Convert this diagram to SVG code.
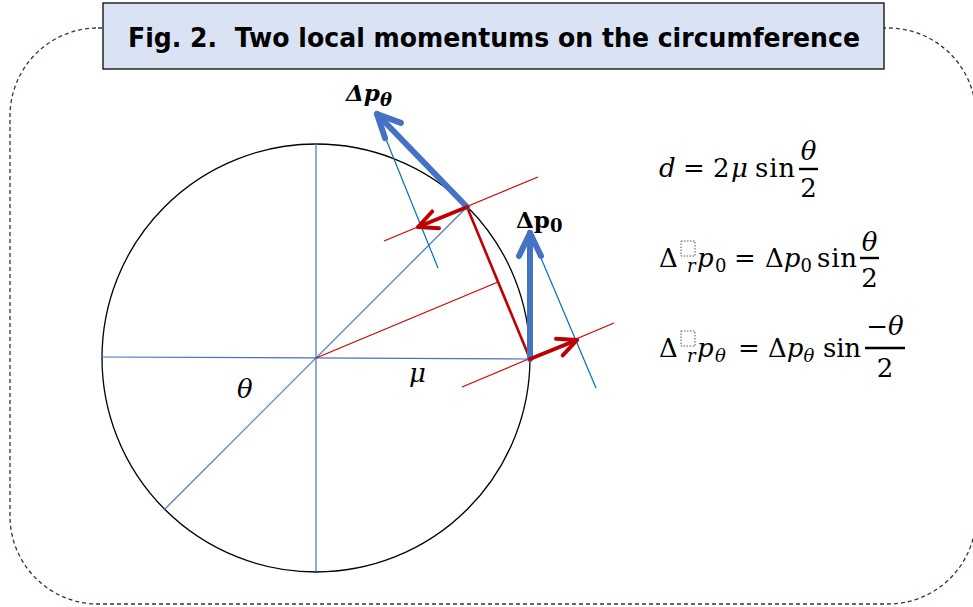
<svg xmlns="http://www.w3.org/2000/svg" width="973" height="607" viewBox="0 0 973 607">
<defs>
<style>
.frame{fill:none;stroke:#203864;stroke-width:1.3;stroke-dasharray:4 3}
.titlebox{fill:#DAE3F3;stroke:#262626;stroke-width:1.5}
.title{font-family:"DejaVu Sans",Verdana,sans-serif;font-weight:bold;font-size:27px;fill:#000;white-space:pre}
.circ{fill:none;stroke:#000;stroke-width:1.3}
.radius{stroke:#4472C4;stroke-width:1.2;fill:none}
.tline{stroke:#0070C0;stroke-width:1.2;fill:none}
.rline{stroke:#D00000;stroke-width:1.2;fill:none}
.chord{stroke:#C00000;stroke-width:2.6;fill:none}
.barrow{stroke:#4472C4;stroke-width:6;fill:none;stroke-linecap:round;marker-end:url(#bhead)}
.rarrow{stroke:#C00000;stroke-width:4;fill:none;stroke-linecap:round;marker-end:url(#rhead)}
.math{font-family:"DejaVu Serif","Liberation Serif",serif;font-size:26px;fill:#000}
.it{font-style:italic}
.sub{font-size:18px}
.lbl{font-family:"DejaVu Serif","Liberation Serif",serif;font-weight:bold;font-size:23px;fill:#000}
.bar{stroke:#000;stroke-width:2.4}
.box{fill:none;stroke:#555;stroke-width:1;stroke-dasharray:1.5 1.5}
</style>
<marker id="bhead" markerUnits="userSpaceOnUse" orient="auto" refX="0" refY="0" markerWidth="40" markerHeight="40" viewBox="-30 -20 40 40" overflow="visible">
<path d="M-23,-11 L0,0 L-23,11" fill="none" stroke="#4472C4" stroke-width="6" stroke-linecap="round" stroke-linejoin="round"/>
</marker>
<marker id="rhead" markerUnits="userSpaceOnUse" orient="auto" refX="0" refY="0" markerWidth="40" markerHeight="40" viewBox="-30 -20 40 40" overflow="visible">
<path d="M-19,-9 L0,0 L-19,9" fill="none" stroke="#C00000" stroke-width="4" stroke-linecap="round" stroke-linejoin="round"/>
</marker>
</defs>
<rect width="973" height="607" fill="#fff"/>

<g id="frame">
<rect class="frame" x="10" y="28" width="966" height="576" rx="88" ry="88"/>
</g>

<g id="title">
<rect class="titlebox" x="103" y="3" width="781" height="66"/>
<text class="title" xml:space="preserve" x="494" y="47" text-anchor="middle" textLength="732" lengthAdjust="spacingAndGlyphs">Fig. 2.  Two local momentums on the circumference</text>
</g>

<g id="circle">
<circle class="circ" cx="316" cy="358" r="214"/>
</g>

<g id="radii">
<line class="radius" x1="101" y1="357" x2="530" y2="359"/>
<line class="radius" x1="316" y1="143" x2="316" y2="571"/>
<line class="radius" x1="164" y1="510" x2="467" y2="207"/>
</g>

<g id="connectors">
<line class="chord" x1="467" y1="207" x2="530" y2="359"/>
<line class="rline" x1="316" y1="358" x2="498" y2="282"/>
<line class="rline" x1="384" y1="241" x2="538" y2="177"/>
<line class="rline" x1="462" y1="387" x2="614" y2="323"/>
<line class="tline" x1="375" y1="112" x2="438" y2="268"/>
<line class="tline" x1="530" y1="232" x2="596" y2="388"/>
<line class="barrow" x1="467" y1="207" x2="377" y2="114"/>
<line class="barrow" x1="530" y1="359" x2="530" y2="233"/>
<line class="rarrow" x1="467" y1="207" x2="418" y2="227"/>
<line class="rarrow" x1="530" y1="359" x2="577" y2="340"/>
</g>

<g id="labels">
<text class="lbl" x="346" y="101"><tspan font-style="italic">Δp</tspan><tspan class="sub" font-style="italic" dy="5">θ</tspan></text>
<text class="lbl" x="516" y="228">Δp<tspan class="sub" dy="4">0</tspan></text>
<text class="math it" x="237" y="398">θ</text>
<text class="math it" x="409" y="382">μ</text>
</g>

<g id="formula1">
<text class="math" y="177"><tspan class="it" x="659">d</tspan><tspan x="683">=</tspan><tspan x="713">2</tspan><tspan class="it" x="731">μ</tspan><tspan x="755" textLength="40" lengthAdjust="spacing">sin</tspan></text>
<line class="bar" x1="799" y1="169" x2="818" y2="169"/>
<text class="math it" x="808.5" y="160" text-anchor="middle">θ</text>
<text class="math" x="808.5" y="197" text-anchor="middle">2</text>
</g>

<g id="formula2">
<text class="math" y="267"><tspan x="659">Δ</tspan><tspan class="it sub" x="687" y="272">r</tspan><tspan class="it" x="697" y="267">p</tspan><tspan class="sub" x="715" y="272">0</tspan><tspan x="734" y="267">=</tspan><tspan x="765">Δ</tspan><tspan class="it">p</tspan><tspan class="sub" dy="5">0</tspan><tspan x="817" y="267" textLength="40" lengthAdjust="spacing">sin</tspan></text>
<rect class="box" x="681" y="241" width="14" height="15"/>
<line class="bar" x1="860" y1="258" x2="879" y2="258"/>
<text class="math it" x="869.5" y="251" text-anchor="middle">θ</text>
<text class="math" x="869.5" y="287" text-anchor="middle">2</text>
</g>

<g id="formula3">
<text class="math" y="357"><tspan x="659">Δ</tspan><tspan class="it sub" x="687" y="362">r</tspan><tspan class="it" x="697" y="357">p</tspan><tspan class="it sub" x="715" y="362">θ</tspan><tspan x="738" y="357">=</tspan><tspan x="768">Δ</tspan><tspan class="it">p</tspan><tspan class="it sub" dy="5">θ</tspan><tspan x="823" y="357" textLength="38" lengthAdjust="spacing">sin</tspan></text>
<rect class="box" x="681" y="331" width="14" height="15"/>
<line class="bar" x1="865" y1="348" x2="905" y2="348"/>
<text class="math" x="885" y="335" text-anchor="middle">−<tspan class="it">θ</tspan></text>
<text class="math" x="885" y="377" text-anchor="middle">2</text>
</g>
</svg>
